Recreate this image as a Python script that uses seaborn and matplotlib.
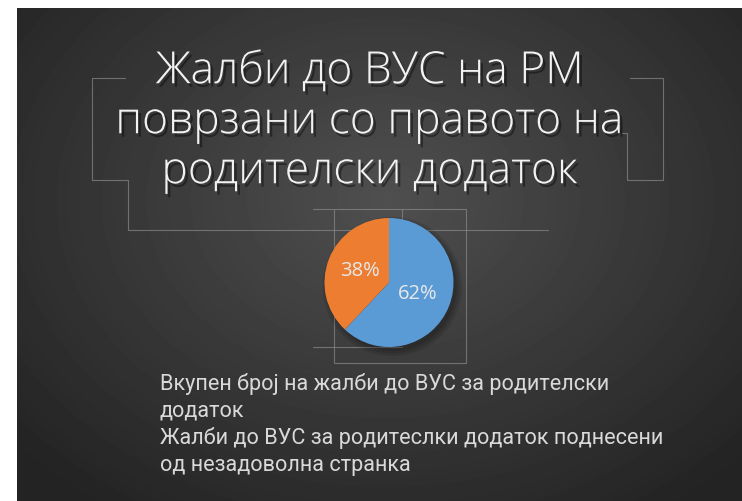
import numpy as np
import matplotlib
matplotlib.use("Agg")
import matplotlib.pyplot as plt
import matplotlib.patheffects as pe
from matplotlib.patches import Circle
import seaborn as sns

# chart data
title_lines = ["Жалби до ВУС на РМ", "поврзани со правото на", "родителски додаток"]
shares = [62, 38]
legend_lines = [
    "Вкупен број на жалби до ВУС за родителски",
    "додаток",
    "Жалби до ВУС за родитеслки додаток поднесени",
    "од незадоволна странка",
]

sns.set_style("dark")
colors = ["#5B9BD5", "#ED7D31"]

W, H = 742, 501
fig = plt.figure(figsize=(W / 100, H / 100), dpi=100, facecolor="white")

# background: dark radial gradient slide, white margin top/left
bg = fig.add_axes([0, 0, 1, 1])
bg.axis("off")
xx, yy = np.meshgrid(np.arange(17, W), np.arange(8, H))
d = np.sqrt(((xx - 385) / 430.0) ** 2 + ((yy - 200) / 330.0) ** 2)
val = 0.31 - 0.15 * np.clip(d, 0, 1.15)
bg.imshow(val, cmap="gray", vmin=0, vmax=1, extent=(17, W, H, 8), aspect="auto",
          interpolation="bilinear")
bg.set_xlim(0, W)
bg.set_ylim(H, 0)

# decorative thin frame lines
lc = dict(color="#8a8a8a", lw=0.8, alpha=0.7)
bg.plot([125, 92, 92, 128, 128, 548], [78, 78, 180, 180, 230, 230], **lc)
bg.plot([630, 663, 663, 627, 627, 622], [78, 78, 180, 180, 133, 133], **lc)
bg.plot([313, 466, 466, 334, 334], [209, 209, 363, 363, 209], **lc)
bg.plot([402, 402], [209, 230], **lc)
bg.plot([313, 402], [347, 347], **lc)

# title with soft shadow
title_fx = [pe.withSimplePatchShadow(offset=(2, -2.5), shadow_rgbFace="black", alpha=0.4)]
for i, line in enumerate(title_lines):
    bg.text(370, 72 + i * 50, line, ha="center", va="center", fontsize=32,
            fontweight="light", color="#f2f2f2", family=["Open Sans", "DejaVu Sans"],
            path_effects=title_fx)

# pie
r_px = 64.5
lim = 1.3
side = 2 * r_px * lim
cx, cy = 389, 282.5
ax = fig.add_axes([(cx - side / 2) / W, 1 - (cy + side / 2) / H, side / W, side / H])
ax.set_facecolor("none")
# soft drop shadow behind the whole pie
for k, a in enumerate([0.10, 0.10, 0.12]):
    ax.add_patch(Circle((0.05, -0.06), 1.0 + 0.04 * (2 - k), color="black", alpha=a, lw=0))
wedges, texts = ax.pie(
    shares, colors=colors, startangle=90, counterclock=False,
    labels=[f"{s}%" for s in shares], labeldistance=0.48,
    textprops=dict(color="#e8e8e8", fontsize=14.5, ha="center", va="center",
                   family=["Open Sans", "DejaVu Sans"]),
    wedgeprops=dict(linewidth=0),
)
ax.set_xlim(-lim, lim)
ax.set_ylim(-lim, lim)
ax.set_aspect("equal")
ax.axis("off")

# legend text (markers hidden in the original)
for i, line in enumerate(legend_lines):
    bg.text(160, 384 + i * 27, line, ha="left", va="center", fontsize=15.6,
            color="#d9d9d9", family=["Roboto", "DejaVu Sans"])

fig.savefig("out.png", dpi=100, facecolor="white")
